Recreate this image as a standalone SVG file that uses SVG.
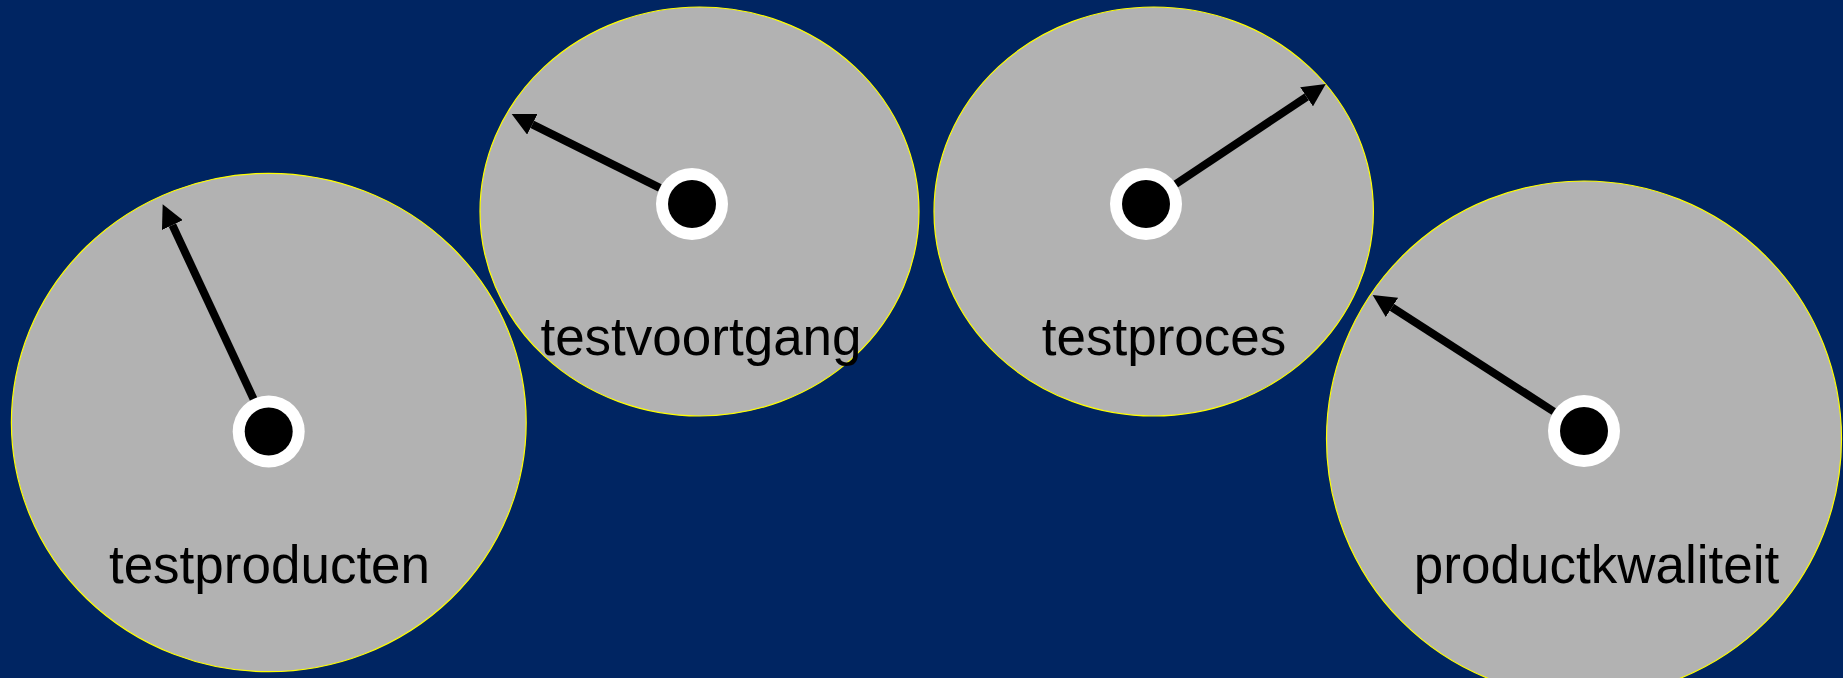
<svg xmlns="http://www.w3.org/2000/svg" width="1843" height="678" viewBox="0 0 1843 678">
<style>
.disc{fill:#B2B2B2;stroke:#FFFF00;stroke-width:1.2}
.ring{fill:#FFFFFF}
.hub{fill:#000000}
.lbl{font-family:"Liberation Sans",Arial,sans-serif;font-size:53px;fill:#000000;text-anchor:middle}
.ptr{stroke:#000000;stroke-width:8;fill:none;marker-end:url(#ah)}
</style>
<defs>
<marker id="ah" markerUnits="userSpaceOnUse" viewBox="0 0 23 23" refX="0" refY="11.5" markerWidth="23" markerHeight="23" orient="auto">
<path d="M0,0 L23,11.5 L0,23 z" fill="#000000"/>
</marker>
</defs>
<rect x="0" y="0" width="1843" height="678" fill="#002562"/>
<g id="testproducten">
<ellipse class="disc" cx="268.8" cy="422.5" rx="257.4" ry="249.2"/>
<circle class="ring" cx="268.7" cy="431.5" r="36"/>
<circle class="hub" cx="268.7" cy="431.5" r="24"/>
<text class="lbl" x="269.5" y="583">testproducten</text>
</g>
<g id="testvoortgang">
<ellipse class="disc" cx="699.5" cy="211.5" rx="219.5" ry="204.5"/>
<circle class="ring" cx="692" cy="204" r="36"/>
<circle class="hub" cx="692" cy="204" r="24"/>
<text class="lbl" x="701" y="355">testvoortgang</text>
</g>
<g id="testproces">
<ellipse class="disc" cx="1153.7" cy="211.5" rx="219.7" ry="204.5"/>
<circle class="ring" cx="1146" cy="204" r="36"/>
<circle class="hub" cx="1146" cy="204" r="24"/>
<text class="lbl" x="1164" y="355">testproces</text>
</g>
<g id="productkwaliteit">
<ellipse class="disc" cx="1584" cy="439" rx="257.5" ry="258"/>
<circle class="ring" cx="1584" cy="431" r="36"/>
<circle class="hub" cx="1584" cy="431" r="24"/>
<text class="lbl" x="1596.5" y="583">productkwaliteit</text>
</g>
<g id="connectors">
<line class="ptr" x1="253.5" y1="398.9" x2="172.4" y2="225.1"/>
<line class="ptr" x1="659.8" y1="187.9" x2="532.3" y2="124.3"/>
<line class="ptr" x1="1175.9" y1="184" x2="1306.6" y2="96.8"/>
<line class="ptr" x1="1553.7" y1="411.5" x2="1392" y2="307.4"/>
</g>
</svg>
